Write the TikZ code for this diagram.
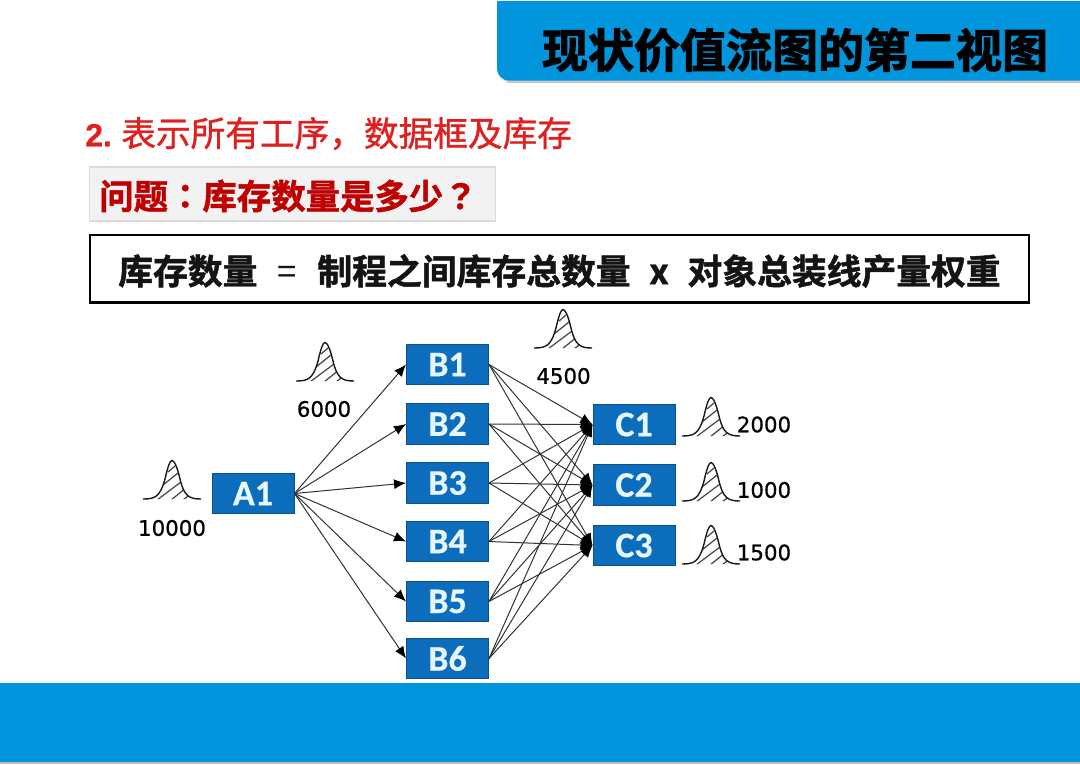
\documentclass[tikz,border=0pt]{standalone}
\usepackage{fontspec}
\usetikzlibrary{arrows.meta}
\setmainfont{Liberation Sans}
\newfontfamily\cjkheavy[FakeBold=2.4]{Noto Sans CJK SC Bold}
\newfontfamily\cjkfig[FakeBold=1.4]{Noto Sans CJK SC Bold}
\newfontfamily\cjkeq{Noto Sans CJK SC}
\newfontfamily\cjkq[FakeBold=1.4]{Noto Sans CJK SC Bold}
\newfontfamily\cjkpunct[FakeBold=1.0]{Noto Sans CJK TC Bold}
\newfontfamily\redmed[FakeBold=1.0]{Noto Sans CJK SC}
\newfontfamily\redfig[FakeBold=0.6]{Liberation Sans Bold}
\newfontfamily\boxfont[FakeBold=0.5]{Carlito Bold}
\newfontfamily\numfont[FakeBold=0.7]{DejaVu Sans}
\definecolor{barblue}{HTML}{0095DC}
\definecolor{procblue}{HTML}{0B6DBB}
\definecolor{procedge}{HTML}{0A4F85}
\definecolor{redA}{HTML}{E01F1F}
\definecolor{redB}{HTML}{C00000}
\definecolor{procText}{HTML}{E6F7FF}
\tikzset{
  procbox/.style={draw=procedge,line width=.7pt,fill=procblue,minimum width=61.5pt,minimum height=30.6pt,inner sep=0pt,text=procText,font=\boxfont\fontsize{27pt}{27pt}\selectfont},
  flow/.style={draw=black!80,line width=.75pt,-{Latex[length=9pt,width=7.5pt,color=black,fill=black]}},
  numlabel/.style={inner sep=0pt,text=black,font=\numfont\fontsize{16pt}{16pt}\selectfont},
  bellline/.style={draw=black!90,line width=1.05pt}
}
\newcommand{\boxtext}[1]{\raisebox{-3.4pt}{#1}}
\newcommand{\bellat}[2]{%
  \begin{scope}[shift={(#1,#2)}]
    \begin{scope}
      \clip (-29,0) .. controls (-17,0) and (-12,-2) .. (-7,-20) .. controls (-4,-33) and (-2,-38.5) .. (0,-38.5) .. controls (2,-38.5) and (5,-33) .. (8,-20) .. controls (12,-3) and (17,0) .. (29,0) -- cycle;
      \draw[black!72,line width=.95pt] (-15,1) -- (9,-17) (-9,-14) -- (6,-26) (-4,-27) -- (3,-33) (-1,1) -- (14,-11) (11,1) -- (20,-6);
    \end{scope}
    \draw[bellline] (-29,0) .. controls (-17,0) and (-12,-2) .. (-7,-20) .. controls (-4,-33) and (-2,-38.5) .. (0,-38.5) .. controls (2,-38.5) and (5,-33) .. (8,-20) .. controls (12,-3) and (17,0) .. (29,0);
  \end{scope}}
\begin{document}
\begin{tikzpicture}[x=.75pt,y=-.75pt]
\useasboundingbox (0,0) rectangle (1080,764);
% header bar
\fill[black!22] (497,4) -- (1080,4) -- (1080,83) -- (509,83) to[out=180,in=90] (497,71) -- cycle;
\fill[barblue] (497,1) -- (1080,1) -- (1080,80.5) -- (509,80.5) to[out=180,in=270] (497,69) -- cycle;
\node[inner sep=0pt,font=\cjkheavy\fontsize{34.5pt}{34.5pt}\selectfont,text=black] (title) at (795,50) {现状价值流图的第二视图};
% footer bar
\fill[barblue] (0,683) rectangle (1080,762);
\fill[black!25] (0,762) rectangle (1080,763.5);
% heading
\node[anchor=west,inner sep=0pt,text=redA,font=\fontsize{26pt}{26pt}\selectfont] (head) at (85,133.5) {{\redfig\fontsize{24pt}{24pt}\selectfont 2.}\hspace{7pt}{\redmed 表示所有工序，数据框及库存}};
% question box
\node[draw=black!14,line width=.8pt,fill=black!5,minimum width=305pt,minimum height=40.5pt,inner sep=0pt] (qbox) at (292.5,194) {};
\node[anchor=west,inner sep=0pt,text=redB,font=\cjkq\fontsize{25.8pt}{25.8pt}\selectfont] (qtext) at (99,196) {问题{\cjkpunct ：}库存数量是多少{\cjkpunct ？}};
% formula box
\node[draw=black,line width=1.9pt,minimum width=704pt,minimum height=50.6pt,inner sep=0pt] (fbox) at (559.5,268.5) {};
\node[anchor=center,inner sep=0pt,text=black!92,font=\cjkfig\fontsize{26.1pt}{26.1pt}\selectfont] (ftext) at (559.5,271) {库存数量\hspace{15pt}{\cjkeq =}\hspace{15.5pt}制程之间库存总数量\hspace{14pt}x\hspace{14pt}对象总装线产量权重};
% process boxes
\node[procbox] (A1) at (253,493.5) {\boxtext{A1}};
\node[procbox] (B1) at (447.5,364.5) {\boxtext{B1}};
\node[procbox] (B2) at (447.5,424) {\boxtext{B2}};
\node[procbox] (B3) at (447.5,483) {\boxtext{B3}};
\node[procbox] (B4) at (447.5,541.5) {\boxtext{B4}};
\node[procbox] (B5) at (447.5,601.5) {\boxtext{B5}};
\node[procbox] (B6) at (447.5,658.5) {\boxtext{B6}};
\node[procbox] (C1) at (634,424.5) {\boxtext{C1}};
\node[procbox] (C2) at (634,485) {\boxtext{C2}};
\node[procbox] (C3) at (634,545.5) {\boxtext{C3}};
% connectors
\foreach \b in {B1,B2,B3,B4,B5,B6}{
  \draw[flow] (A1.east) -- (\b.west);
  \foreach \c in {C1,C2,C3}{
    \draw[flow] (\b.east) -- (\c.west);
  }
}
% inventory curves
\bellat{172}{499}
\bellat{325}{381}
\bellat{563}{348}
\bellat{711}{436}
\bellat{711}{501}
\bellat{711}{564}
% inventory labels
\node[numlabel] (n10000) at (172,528) {10000};
\node[numlabel] (n6000) at (324,409) {6000};
\node[numlabel] (n4500) at (563.5,376) {4500};
\node[numlabel] (n2000) at (764,424.5) {2000};
\node[numlabel] (n1000) at (764,490) {1000};
\node[numlabel] (n1500) at (764,552.5) {1500};
\end{tikzpicture}
\end{document}
